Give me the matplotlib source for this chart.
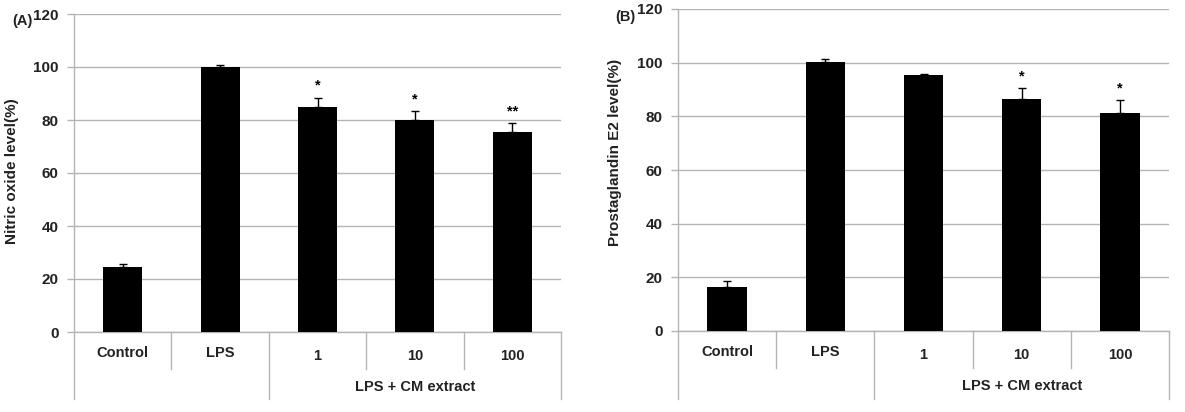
import matplotlib.pyplot as plt

# --- data ---
categories = ["Control", "LPS", "1", "10", "100"]
group_label = "LPS + CM extract"

no_vals = [24.5, 100.0, 85.0, 80.0, 75.5]
no_err = [1.3, 0.8, 3.4, 3.3, 3.3]
no_sig = ["", "", "*", "*", "**"]

pge_vals = [16.3, 100.2, 95.3, 86.4, 81.4]
pge_err = [2.3, 1.2, 0.5, 4.0, 4.6]
pge_sig = ["", "", "", "*", "*"]

plt.rcParams['font.family'] = ['Liberation Sans', 'DejaVu Sans']
GRID = '#b4b4b4'

W, H = 1185, 412
fig = plt.figure(figsize=(W / 100, H / 100), dpi=100)


def panel(px_left, px_right, px_top, px_zero, vals, errs, sig, ylabel, tag,
          tag_xy, label_x, label_y):
    ax = fig.add_axes([px_left / W, (H - px_zero) / H,
                       (px_right - px_left) / W, (px_zero - px_top) / H])
    x = list(range(len(categories)))
    ax.bar(x, vals, width=0.4, color='black', zorder=3)
    ax.errorbar(x, vals, yerr=[[0] * len(errs), errs], fmt='none',
                ecolor='black', elinewidth=1, capsize=3, capthick=1, zorder=4)
    for xi, v, e, s in zip(x, vals, errs, sig):
        if s:
            ax.text(xi, v + e + 4.5, s, ha='center', va='center',
                    fontsize=10.5, fontweight='bold')

    ax.set_xlim(-0.5, len(categories) - 0.5)
    ax.set_ylim(0, 120)
    ax.set_yticks(range(0, 121, 20))
    ax.yaxis.grid(True, color=GRID, linewidth=1)
    ax.set_axisbelow(True)
    for side in ['top', 'right']:
        ax.spines[side].set_visible(False)
    for side in ['left', 'bottom']:
        ax.spines[side].set_color(GRID)
        ax.spines[side].set_linewidth(1)
    ax.tick_params(axis='y', length=5, color=GRID, width=1, pad=6,
                   labelsize=11, labelcolor='#222222')
    for lab in ax.get_yticklabels():
        lab.set_fontweight('bold')
    ax.set_xticks([])

    ax.set_ylabel(ylabel, fontsize=11, fontweight='bold', color='#222222')
    ax.yaxis.set_label_coords(label_x, label_y)

    # category table under the axis
    tr = ax.get_xaxis_transform()
    short_y, long_y = -0.115, -0.21
    for xb, yb in [(-0.5, long_y), (0.5, short_y), (1.5, long_y),
                   (2.5, short_y), (3.5, short_y), (4.5, long_y)]:
        ax.plot([xb, xb], [0, yb], transform=tr, color=GRID, lw=1,
                clip_on=False)
    for xi, name in zip(x, categories):
        ty = -0.066 if xi < 2 else -0.076
        ax.text(xi, ty, name, transform=tr, ha='center', va='center',
                fontsize=10.5, fontweight='bold', color='#222222')
    ax.text(3, -0.172, group_label, transform=tr, ha='center', va='center',
            fontsize=10.5, fontweight='bold', color='#222222')

    fig.text(tag_xy[0] / W, 1 - tag_xy[1] / H, tag, ha='left', va='center',
             fontsize=10.5, fontweight='bold', color='#222222')
    return ax


panel(74, 561, 14, 332, no_vals, no_err, no_sig,
      'Nitric oxide level(%)', '(A)', (12, 21), -0.113, 0.506)
panel(678, 1169, 9, 331, pge_vals, pge_err, pge_sig,
      'Prostaglandin E2 level(%)', '(B)', (615, 17), -0.114, 0.553)

fig.savefig('out.png', dpi=100)
